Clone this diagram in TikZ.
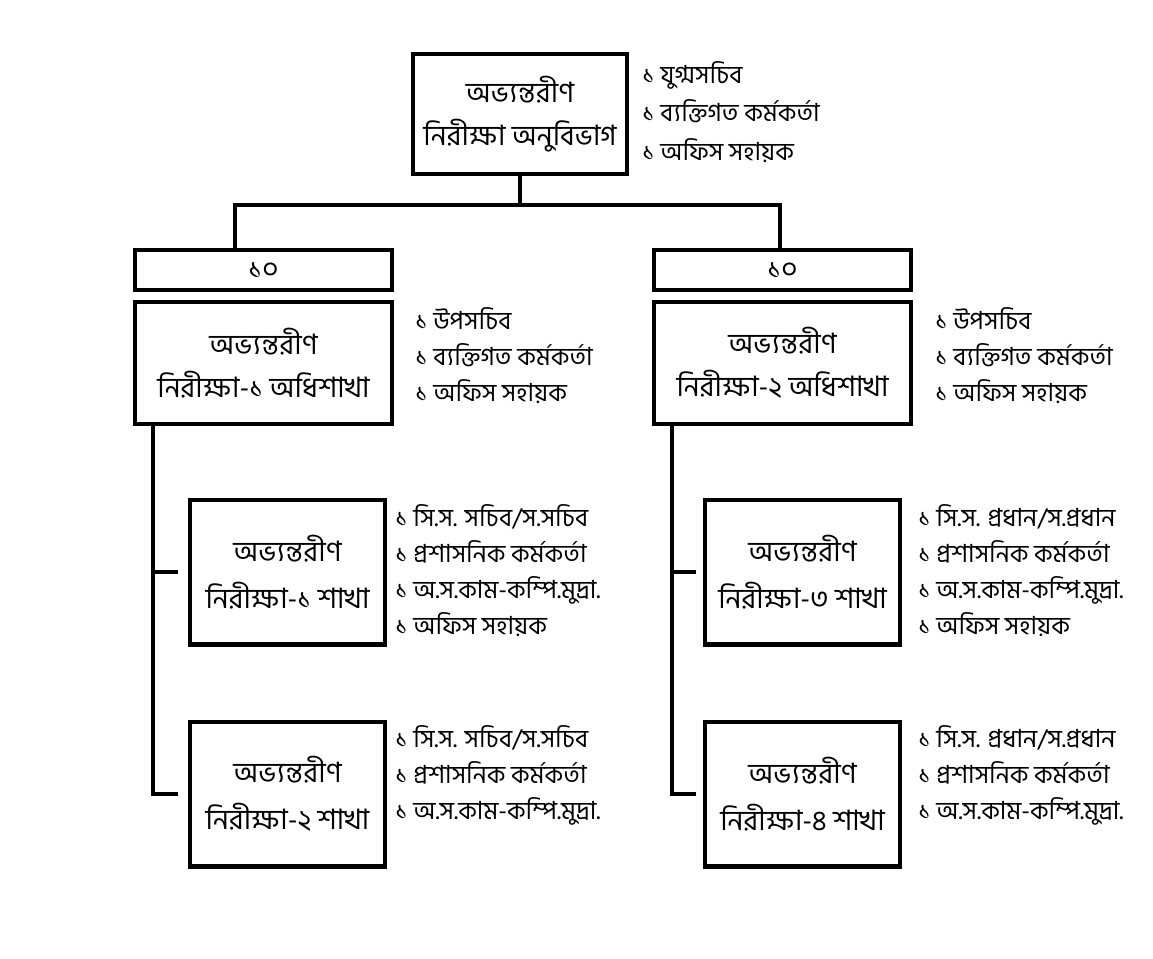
\documentclass[tikz,border=0pt]{standalone}
\usepackage{fontspec}
\usepackage{tikz}
\usetikzlibrary{positioning, calc}
\newfontfamily\bn[Script=Bengali]{Hind Siliguri}
\newcommand{\unitfont}{\bn\fontsize{16}{24.5}\selectfont}
\newcommand{\stafffont}{\bn\fontsize{14.2}{20.5}\selectfont}

\begin{document}
\begin{tikzpicture}[x=0.02cm, y=-0.02cm,
  unit/.style={draw, line width=2.3pt, align=center, font=\unitfont, inner sep=0pt},
  staff/.style={anchor=west, align=left, font=\stafffont, inner sep=0pt},
  conn/.style={line width=2.3pt}]
  \useasboundingbox (0,0) rectangle (1153,958);
  % Wing at the top
  \node[unit, minimum width=4.28cm, minimum height=2.4cm] (wing) at (520,114) {অভ্যন্তরীণ\\নিরীক্ষা অনুবিভাগ};
  \node[staff] (winginfo) at (642,112) {১ যুগ্মসচিব\\[1.5pt]১ ব্যক্তিগত কর্মকর্তা\\[1.5pt]১ অফিস সহায়ক};
  % Two branches with their count bars
  \node[unit, minimum width=5.14cm, minimum height=0.8cm] (bar1) at (263.5,270) {১০};
  \node[unit, minimum width=5.14cm, minimum height=0.8cm] (bar2) at (782.5,270) {১০};
  \node[unit, minimum width=5.14cm, minimum height=2.44cm] (br1) at (263.5,363) {অভ্যন্তরীণ\\নিরীক্ষা-১ অধিশাখা};
  \node[unit, minimum width=5.14cm, minimum height=2.44cm] (br2) at (782.5,363) {অভ্যন্তরীণ\\নিরীক্ষা-২ অধিশাখা};
  \node[staff] (br1info) at (415,356) {১ উপসচিব\\১ ব্যক্তিগত কর্মকর্তা\\১ অফিস সহায়ক};
  \node[staff] (br2info) at (935,356) {১ উপসচিব\\১ ব্যক্তিগত কর্মকর্তা\\১ অফিস সহায়ক};
  % Sections
  \node[unit, minimum width=3.9cm, minimum height=2.9cm] (sec1) at (287.5,572) {অভ্যন্তরীণ\\[2pt]নিরীক্ষা-১ শাখা};
  \node[unit, minimum width=3.9cm, minimum height=2.9cm] (sec2) at (287.5,794) {অভ্যন্তরীণ\\[2pt]নিরীক্ষা-২ শাখা};
  \node[unit, minimum width=3.9cm, minimum height=2.9cm] (sec3) at (802.5,572) {অভ্যন্তরীণ\\[2pt]নিরীক্ষা-৩ শাখা};
  \node[unit, minimum width=3.9cm, minimum height=2.9cm] (sec4) at (802.5,794) {অভ্যন্তরীণ\\[2pt]নিরীক্ষা-৪ শাখা};
  \node[staff] (sec1info) at (395,571) {১ সি.স. সচিব/স.সচিব\\১ প্রশাসনিক কর্মকর্তা\\১ অ.স.কাম-কম্পি.মুদ্রা.\\১ অফিস সহায়ক};
  \node[staff] (sec2info) at (395,775) {১ সি.স. সচিব/স.সচিব\\১ প্রশাসনিক কর্মকর্তা\\১ অ.স.কাম-কম্পি.মুদ্রা.};
  \node[staff] (sec3info) at (918,571) {১ সি.স. প্রধান/স.প্রধান\\১ প্রশাসনিক কর্মকর্তা\\১ অ.স.কাম-কম্পি.মুদ্রা.\\১ অফিস সহায়ক};
  \node[staff] (sec4info) at (918,775) {১ সি.স. প্রধান/স.প্রধান\\১ প্রশাসনিক কর্মকর্তা\\১ অ.স.কাম-কম্পি.মুদ্রা.};
  % Connectors
  \coordinate (hl) at (235,205);
  \coordinate (hr) at (780,205);
  \coordinate (sp1) at (153,0);
  \coordinate (sp2) at (672,0);
  \draw[conn] (wing.south) -- (wing.south |- hl);
  \draw[conn] (hl |- bar1.north) -- (hl) -- (hr) -- (hr |- bar2.north);
  \draw[conn] (br1.south -| sp1) |- ([xshift=-0.2cm]sec2.west);
  \draw[conn] (sec1.west -| sp1) -- ([xshift=-0.2cm]sec1.west);
  \draw[conn] (br2.south -| sp2) |- ([xshift=-0.14cm]sec4.west);
  \draw[conn] (sec3.west -| sp2) -- ([xshift=-0.14cm]sec3.west);
\end{tikzpicture}
\end{document}
